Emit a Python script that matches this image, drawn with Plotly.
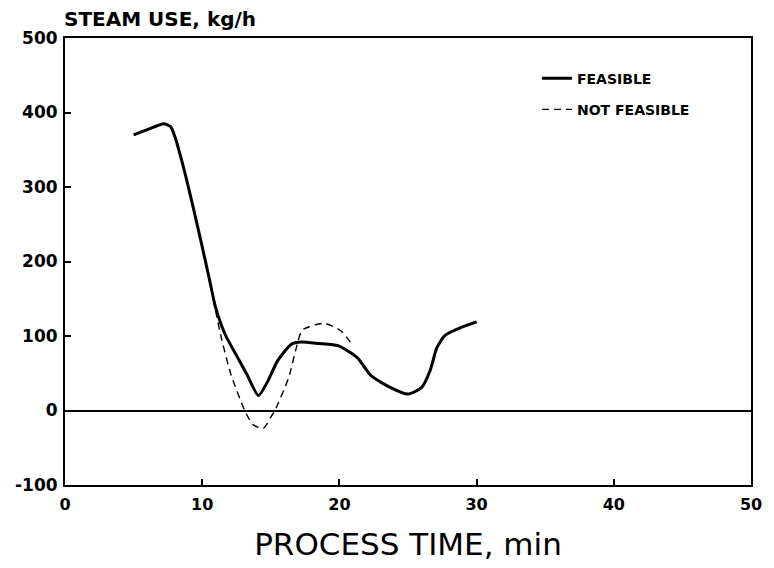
import plotly.graph_objects as go

# Process time (min) and steam use (kg/h)
feasible_t = [5, 6, 7.2, 7.7, 8.0, 8.67, 9.25, 9.9, 10.48, 10.98, 11.7, 12.5, 13.3, 14.1,
              14.8, 15.5, 16.5, 17.2, 18.5, 19.9, 21.3, 22.3, 23.7, 25, 26, 26.6, 27.1,
              27.7, 28.8, 30]
feasible_v = [370, 377, 385, 381, 368, 324, 280, 228, 180, 138, 101, 74, 47, 20,
              40, 67, 89, 92, 90, 87, 71, 47, 31, 22, 31, 53, 84,
              101, 111, 119]

notfeas_t = [10.8, 11.4, 12.1, 13.1, 13.7, 14.45, 15, 15.3, 16.3, 16.8, 17.3, 18.9, 20.1, 21]
notfeas_v = [150, 97, 48, 0, -19, -24, -9, 0, 44, 80, 108, 117, 107, 87]

x_ticks = [0, 10, 20, 30, 40, 50]
y_ticks = [-100, 0, 100, 200, 300, 400, 500]

FONT = "DejaVu Sans"

fig = go.Figure()
fig.add_trace(go.Scatter(
    x=feasible_t, y=feasible_v, mode="lines", name="FEASIBLE", legendgroup="a",
    line=dict(color="black", width=3, shape="spline", smoothing=0.6)))
fig.add_trace(go.Scatter(
    x=notfeas_t, y=notfeas_v, mode="lines", name="NOT FEASIBLE", legendgroup="b",
    line=dict(color="black", width=1.4, dash="7px,5px", shape="spline", smoothing=0.6)))

fig.update_layout(
    width=774, height=568,
    margin=dict(l=65, r=17, t=38, b=80),
    paper_bgcolor="white", plot_bgcolor="white",
    font=dict(family=FONT, color="black"),
    showlegend=True,
    legend=dict(x=0.688, y=0.945, xanchor="left", yanchor="top",
                bgcolor="rgba(0,0,0,0)", borderwidth=0,
                font=dict(family=FONT, size=14, color="black", weight="bold"),
                itemwidth=30, tracegroupgap=10),
    xaxis=dict(range=[0, 50], tickvals=x_ticks, ticktext=[str(v) for v in x_ticks],
               ticks="inside", ticklen=6, tickwidth=1.5, tickcolor="black",
               showline=True, linewidth=2, linecolor="black", mirror=True,
               showgrid=False, zeroline=False, ticklabelstandoff=4,
               tickfont=dict(family=FONT, size=16, color="black", weight="bold"),
               title=dict(text="PROCESS TIME, min", standoff=20,
                          font=dict(family=FONT, size=31, color="black"))),
    yaxis=dict(range=[-100, 500], tickvals=y_ticks, ticktext=[str(v) for v in y_ticks],
               ticks="inside", ticklen=6, tickwidth=1.5, tickcolor="black",
               showline=True, linewidth=2, linecolor="black", mirror=True,
               showgrid=False, zeroline=True, zerolinecolor="black", zerolinewidth=1.5,
               ticklabelstandoff=2,
               tickfont=dict(family=FONT, size=17, color="black", weight="bold")),
    annotations=[dict(text="STEAM USE, kg/h", xref="paper", yref="paper", x=-0.005, y=1,
                      xanchor="left", yanchor="bottom", yshift=5, showarrow=False,
                      font=dict(family=FONT, size=20, color="black", weight="bold"))],
)

fig.write_html("out.html")
